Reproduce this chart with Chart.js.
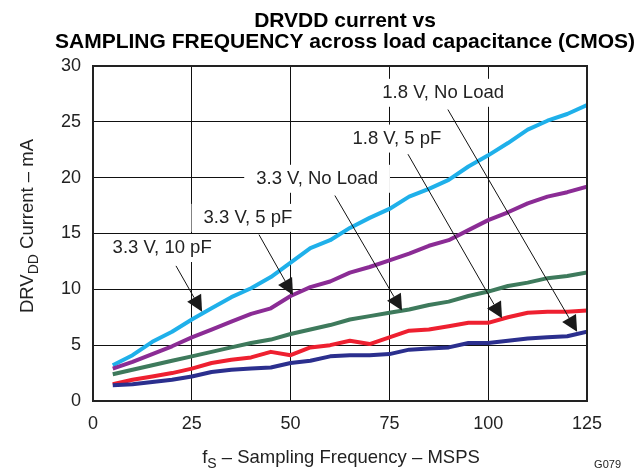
<!DOCTYPE html>
<html><head><meta charset="utf-8">
<script src="https://cdn.jsdelivr.net/npm/chart.js@4"></script>
<style>html,body{margin:0;padding:0;background:#fff}#c{display:block}</style>
</head><body>
<canvas id="c" width="644" height="470"></canvas>
<script>
const freqs = [5,10,15,20,25,30,35,40,45,50,55,60,65,70,75,80,85,90,95,100,105,110,115,120,125];
const v18NoLoad = [3.2,4.1,5.3,6.2,7.3,8.3,9.3,10.1,11.1,12.4,13.7,14.4,15.5,16.4,17.2,18.3,19.0,19.8,21.0,22.0,23.1,24.3,25.1,25.7,26.5];
const v18_5pF  = [2.9,3.5,4.2,4.9,5.7,6.4,7.1,7.8,8.3,9.4,10.2,10.7,11.5,12.0,12.6,13.2,13.9,14.4,15.3,16.2,16.9,17.7,18.3,18.7,19.2];
const v33NoLoad = [2.4,2.8,3.2,3.6,4.0,4.4,4.8,5.2,5.5,6.0,6.4,6.8,7.3,7.6,7.9,8.2,8.6,8.9,9.4,9.8,10.3,10.6,11.0,11.2,11.5];
const v33_5pF  = [1.5,1.9,2.2,2.5,2.9,3.4,3.7,3.9,4.4,4.1,4.8,5.0,5.4,5.1,5.7,6.3,6.4,6.7,7.0,7.0,7.5,7.9,8.0,8.0,8.1];
const v33_10pF = [1.4,1.5,1.7,1.9,2.2,2.6,2.8,2.9,3.0,3.4,3.6,4.0,4.1,4.1,4.2,4.6,4.7,4.8,5.2,5.2,5.4,5.6,5.7,5.8,6.2];
const xTicks = [0,25,50,75,100,125];
const yTicks = [0,5,10,15,20,25,30];
const seriesNames = ['1.8 V, No Load','1.8 V, 5 pF','3.3 V, No Load','3.3 V, 5 pF','3.3 V, 10 pF'];
// annotation: label center (f, mA), line start (f, mA), arrow tip (f, mA)
const annLabels = seriesNames;
const annText  = [[88.6,27.6],[76.9,23.5],[56.7,19.9],[39.2,16.4],[17.5,13.7]];
const annStart = [[89.8,26.1],[79.7,22.1],[61.2,18.4],[42.0,14.9],[21.0,12.1]];
const annTip   = [[122.5,6.2],[103.5,7.4],[78.2,8.1],[50.6,9.5],[27.6,8.0]];

const colors = ['#1fb0ea','#8b2c95','#3e7a5c','#ee2030','#2b2f8e'];
const allVals = [v18NoLoad,v18_5pF,v33NoLoad,v33_5pF,v33_10pF];
const FONT = '"Liberation Sans", Arial, sans-serif';

const datasets = allVals.map((vals,i)=>({
  label: seriesNames[i],
  data: freqs.map((f,j)=>({x:f,y:vals[j]})),
  borderColor: colors[i], borderWidth: 4, pointRadius: 0, tension: 0, fill:false,
  borderJoinStyle:'round', borderCapStyle:'butt'
})).reverse();

const annPlugin = {
  id:'ann',
  beforeDatasetsDraw(chart){
    const ctx = chart.ctx, xs = chart.scales.x, ys = chart.scales.y;
    ctx.save();
    ctx.font = '18.5px ' + FONT;
    annLabels.forEach((t,i)=>{
      const cx = xs.getPixelForValue(annText[i][0]), cy = ys.getPixelForValue(annText[i][1]);
      const w = ctx.measureText(t).width;
      ctx.fillStyle = '#fff';
      ctx.fillRect(cx - w/2 - 12, cy - 14, w + 24, 28);
    });
    ctx.restore();
  },
  afterDatasetsDraw(chart){
    const ctx = chart.ctx, xs = chart.scales.x, ys = chart.scales.y;
    ctx.save();
    ctx.font = '18.5px ' + FONT;
    ctx.textAlign = 'center'; ctx.textBaseline = 'middle';
    annLabels.forEach((t,i)=>{
      const cx = xs.getPixelForValue(annText[i][0]), cy = ys.getPixelForValue(annText[i][1]);
      ctx.fillStyle = '#222';
      ctx.fillText(t, cx, cy);
      const x0 = xs.getPixelForValue(annStart[i][0]), y0 = ys.getPixelForValue(annStart[i][1]);
      const x1 = xs.getPixelForValue(annTip[i][0]), y1 = ys.getPixelForValue(annTip[i][1]);
      const dx = x1-x0, dy = y1-y0, L = Math.hypot(dx,dy), ux = dx/L, uy = dy/L;
      const hl = 16, hw = 8;
      const bx = x1 - ux*hl, by = y1 - uy*hl;
      ctx.strokeStyle = '#111'; ctx.lineWidth = 1;
      ctx.beginPath(); ctx.moveTo(x0,y0); ctx.lineTo(bx,by); ctx.stroke();
      ctx.fillStyle = '#1a1a1a';
      ctx.beginPath();
      ctx.moveTo(x1,y1);
      ctx.lineTo(bx - uy*hw, by + ux*hw);
      ctx.lineTo(bx + uy*hw, by - ux*hw);
      ctx.closePath(); ctx.fill();
    });
    ctx.restore();
  },
  afterDraw(chart){
    const ctx = chart.ctx, a = chart.chartArea;
    ctx.save();
    ctx.strokeStyle = '#222'; ctx.lineWidth = 2;
    ctx.strokeRect(a.left, a.top, a.right-a.left, a.bottom-a.top);
    ctx.fillStyle = '#000';
    ctx.textAlign = 'center'; ctx.textBaseline = 'alphabetic';
    ctx.font = 'bold 21px ' + FONT;
    ctx.fillText('DRVDD current vs', 345, 27);
    ctx.fillText('SAMPLING FREQUENCY across load capacitance (CMOS)', 345, 48);
    const drawSub = (parts, cx, cy) => {
      let total = 0;
      parts.forEach(p=>{ ctx.font = (p.sub?'14px ':'18.5px ') + FONT; p.w = ctx.measureText(p.t).width; total += p.w; });
      let x = cx - total/2;
      ctx.textAlign = 'left';
      parts.forEach(p=>{ ctx.font = (p.sub?'14px ':'18.5px ') + FONT; ctx.fillText(p.t, x, cy + (p.sub?5:0)); x += p.w; });
    };
    ctx.fillStyle = '#222';
    drawSub([{t:'f'},{t:'S',sub:true},{t:' \u2013 Sampling Frequency \u2013 MSPS'}], 341, 463);
    ctx.save();
    ctx.translate(33, 226); ctx.rotate(-Math.PI/2);
    drawSub([{t:'DRV'},{t:'DD',sub:true},{t:' Current \u2013 mA'}], 0, 0);
    ctx.restore();
    ctx.textAlign = 'right';
    ctx.font = '11px ' + FONT;
    ctx.fillText('G079', 621, 468);
    ctx.restore();
  }
};

new Chart(document.getElementById('c'), {
  type:'line',
  data:{datasets},
  options:{
    responsive:false, animation:false, devicePixelRatio:1,
    layout:{padding:{top:66,right:57,bottom:0,left:0}},
    plugins:{legend:{display:false}, tooltip:{enabled:false}, title:{display:false}},
    scales:{
      x:{type:'linear', min:0, max:125,
        afterBuildTicks(s){ s.ticks = xTicks.map(v=>({value:v})); },
        afterFit(s){ s.height = 69; },
        grid:{color:'#111', lineWidth:1, drawTicks:false},
        border:{color:'#222', width:2},
        ticks:{color:'#222', padding:12, font:{family:FONT, size:18}, maxRotation:0}
      },
      y:{type:'linear', min:0, max:30,
        afterBuildTicks(s){ s.ticks = yTicks.map(v=>({value:v})); },
        afterFit(s){ s.width = 93; },
        grid:{color:'#111', lineWidth:1, drawTicks:false},
        border:{color:'#222', width:2},
        ticks:{color:'#222', padding:12, font:{family:FONT, size:18}}
      }
    }
  },
  plugins:[annPlugin]
});
</script>
</body></html>
